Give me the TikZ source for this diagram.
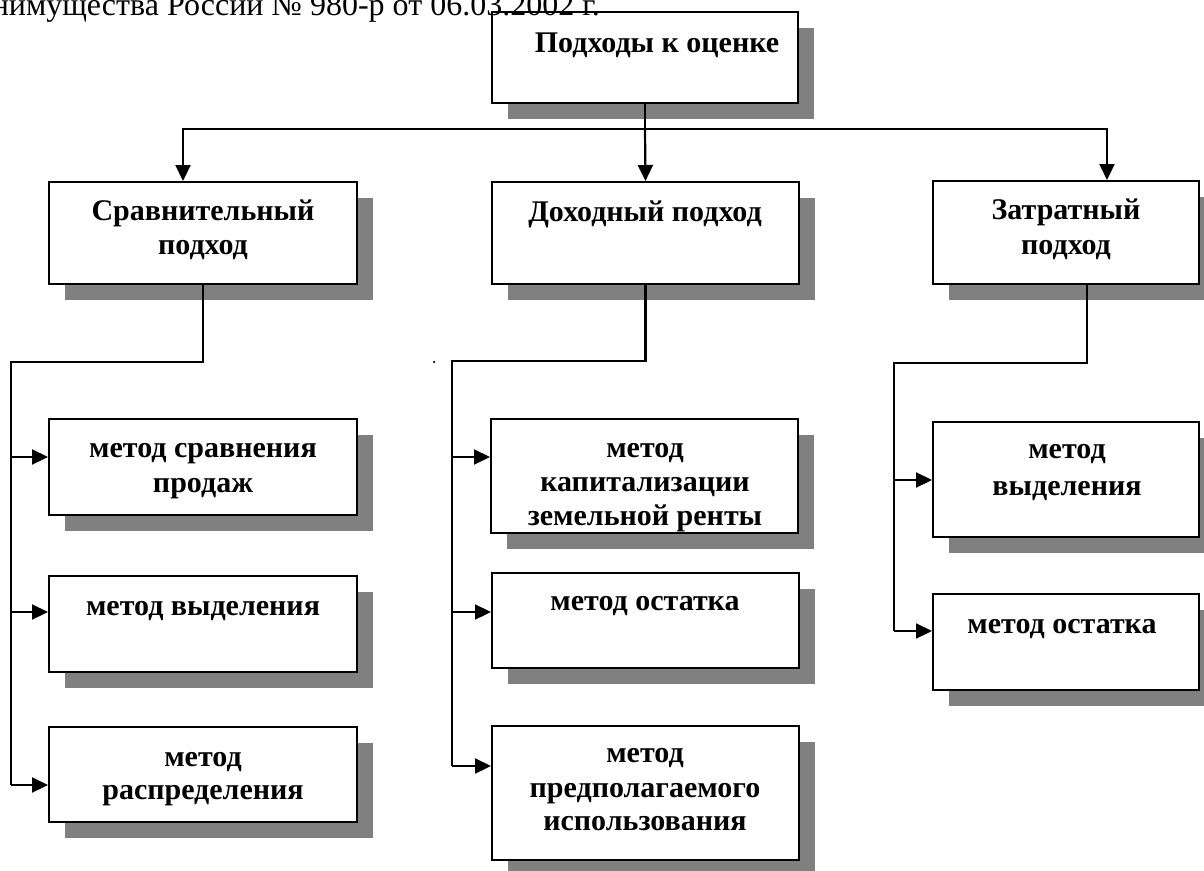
\documentclass[tikz,border=0pt]{standalone}
\usepackage{fontspec}
\setmainfont{Liberation Serif}
\usetikzlibrary{arrows.meta,shadows}
\definecolor{shadowgray}{HTML}{808080}
\begin{document}
\begin{tikzpicture}[x=1pt,y=-1pt,
  box/.style={draw=black, line width=2pt, fill=white, inner sep=0pt,
    drop shadow={shadow xshift=16pt, shadow yshift=-16pt, fill=shadowgray, opacity=1}},
  lbl/.style={anchor=base, inner sep=0pt, font=\fontsize{30}{35}\selectfont\bfseries},
  line/.style={line width=2.2pt},
  arr/.style={line width=2.2pt, -{Triangle[length=16pt,width=15pt]}},
]
\useasboundingbox (0,0) rectangle (1204,870);
\clip (0,0) rectangle (1204,870);
\fill[white] (0,0) rectangle (1204,870);

% boxes
\node[box, minimum width=306pt, minimum height=91pt] (T) at (645,57.5) {};
\node[box, minimum width=308pt, minimum height=102pt] (S) at (203,233) {};
\node[box, minimum width=307pt, minimum height=102pt] (D) at (645.5,233) {};
\node[box, minimum width=266pt, minimum height=103pt] (Z) at (1066,232.5) {};
\node[box, minimum width=308pt, minimum height=96pt] (A1) at (203,467) {};
\node[box, minimum width=308pt, minimum height=96pt] (A2) at (203,624) {};
\node[box, minimum width=308pt, minimum height=95pt] (A3) at (203,774.5) {};
\node[box, minimum width=307pt, minimum height=114pt] (B1) at (644.5,476) {};
\node[box, minimum width=307pt, minimum height=95pt] (B2) at (645.5,620.5) {};
\node[box, minimum width=307pt, minimum height=134pt] (B3) at (645.5,793) {};
\node[box, minimum width=266pt, minimum height=115pt] (C1) at (1066,479.5) {};
\node[box, minimum width=266pt, minimum height=96pt] (C2) at (1066,642) {};

% header text (cut by the top edge)
\node[anchor=base east, inner sep=0pt, font=\fontsize{32}{37}\selectfont] (hdr) at (600,15) {Минимущества России № 980-р от 06.03.2002 г.};

% texts
\node[lbl] (t1) at (657,52) {Подходы к оценке};
\node[lbl] (s1) at (203,220) {Сравнительный};
\node[lbl] (s2) at (203,254) {подход};
\node[lbl] (d1) at (645,221) {Доходный подход};
\node[lbl] (z1) at (1066,219) {Затратный};
\node[lbl] (z2) at (1066,254) {подход};
\node[lbl] (a11) at (203,457) {метод сравнения};
\node[lbl] (a12) at (203,492) {продаж};
\node[lbl] (a21) at (203,615) {метод выделения};
\node[lbl] (a31) at (203,766) {метод};
\node[lbl] (a32) at (203,799) {распределения};
\begin{scope}
  \clip (B1.south west) rectangle (B1.north east);
  \node[lbl] (b11) at (645,457) {метод};
  \node[lbl] (b12) at (645,491) {капитализации};
  \node[lbl] (b13) at (645,525) {земельной ренты};
\end{scope}
\node[lbl] (b21) at (645,610) {метод остатка};
\node[lbl] (b31) at (645,762) {метод};
\node[lbl] (b32) at (645,797) {предполагаемого};
\node[lbl] (b33) at (645,830) {использования};
\node[lbl] (c11) at (1067,458) {метод};
\node[lbl] (c12) at (1067,495) {выделения};
\node[lbl] (c21) at (1062,633) {метод остатка};

% stray dot
\node[circle, fill=black, inner sep=0pt, minimum size=2.5pt] (dot) at (434,362) {};

% top distribution
\coordinate (hub) at (645,129);
\draw[line] (T.south) -- (hub);
\draw[arr] (hub) -| ([xshift=-20pt]S.north);
\draw[arr] (hub) -- (D.north);
\draw[arr] (hub) -| ([xshift=41pt]Z.north);

% left bus
\coordinate (sk) at (11,362);
\coordinate (sa1) at (11,457);
\coordinate (sa2) at (11,612);
\coordinate (sa3) at (11,785);
\draw[line] (S.south) |- (sk) -- (sa3);
\draw[arr] (sa1) -- (sa1 -| A1.west);
\draw[arr] (sa2) -- (sa2 -| A2.west);
\draw[arr] (sa3) -- (sa3 -| A3.west);

% middle bus
\coordinate (dk) at (452,361);
\coordinate (db1) at (452,457);
\coordinate (db2) at (452,612);
\coordinate (db3) at (452,766);
\draw[line] (D.south) |- (dk) -- (db3);
\draw[arr] (db1) -- (db1 -| B1.west);
\draw[arr] (db2) -- (db2 -| B2.west);
\draw[arr] (db3) -- (db3 -| B3.west);

% right bus
\coordinate (zk) at (894,363);
\coordinate (zc1) at (894,480);
\coordinate (zc2) at (894,631);
\draw[line] ([xshift=21pt]Z.south) |- (zk) -- (zc2);
\draw[arr] (zc1) -- (zc1 -| C1.west);
\draw[arr] (zc2) -- (zc2 -| C2.west);
\end{tikzpicture}
\end{document}
